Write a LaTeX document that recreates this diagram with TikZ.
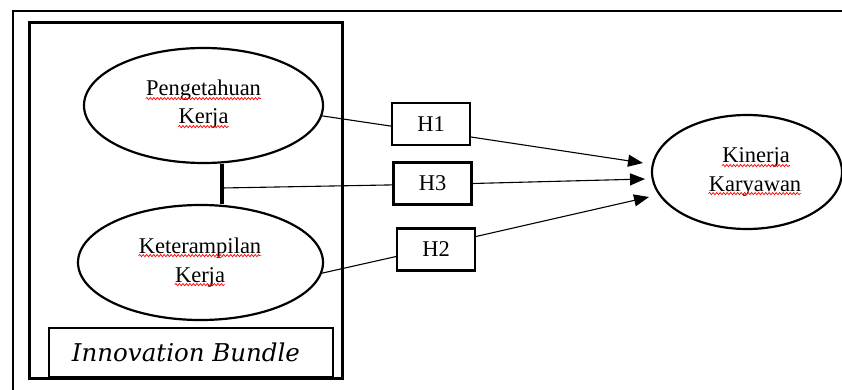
\documentclass[tikz,border=0pt]{standalone}
\usepackage{fontspec}
\setmainfont{Liberation Serif}
\newfontfamily\bundlefont{DejaVu Serif}
\usetikzlibrary{arrows.meta,shapes.geometric,decorations.pathmorphing}
\begin{document}
\begin{tikzpicture}[x=1pt,y=-1pt,
  ell/.style={ellipse,draw,line width=2.2pt,inner sep=0pt},
  lbl/.style={anchor=base,inner sep=0pt,font=\fontsize{22.5}{28}\selectfont},
  wave/.style={red,line width=0.7pt,decorate,decoration={snake,amplitude=1.1pt,segment length=3.5pt}},
  hbox/.style={rectangle,draw,line width=2.2pt,minimum width=78pt,minimum height=42pt,inner sep=0pt,font=\fontsize{22.5}{26}\selectfont},
  conn/.style={line width=1.1pt},
  arr/.style={conn,-{Triangle[length=15pt,width=12pt]}}]
\useasboundingbox (0,0) rectangle (842,390);
% outer frame
\draw[line width=1.6pt] (13,400) -- (13,11) -- (850,11);
% innovation bundle frame
\draw[line width=3pt] (29,23) rectangle (342,378);
\node[draw,line width=1.2pt,minimum width=284pt,minimum height=49pt,inner sep=0pt,
      font=\bundlefont\itshape\fontsize{24.5}{27}\selectfont] (bundle) at (191,352.5) {\hspace*{-10pt}Innovation Bundle};
% ellipses
\node[ell,minimum width=239pt,minimum height=115pt] (e1) at (203.5,105.5) {};
\node[ell,minimum width=245pt,minimum height=115pt] (e2) at (200.5,262.5) {};
\node[ell,minimum width=190pt,minimum height=114pt] (e3) at (747,172) {};
% ellipse labels
\node[lbl] (e1a) at (203.5,96) {Pengetahuan};
\node[lbl] (e1b) at (203.5,124) {Kerja};
\node[lbl] (e2a) at (200,253) {Keterampilan};
\node[lbl] (e2b) at (200,282) {Kerja};
\node[lbl] (e3a) at (756,163) {Kinerja};
\node[lbl] (e3b) at (755,191) {Karyawan};
\foreach \w in {e1a,e1b,e2a,e2b,e3a,e3b}
  \draw[wave] ([yshift=-2.6pt]\w.base west) -- ([yshift=-2.6pt]\w.base east);
% hypothesis boxes
\node[hbox] (h1) at (431,124) {H1};
\node[hbox] (h3) at (432.5,183.5) {H3};
\node[hbox] (h2) at (436,249.5) {H2};
% joint line
\coordinate (j) at (222,188);
\draw[line width=3.5pt] (j |- e1.south) -- (j |- e2.north);
% arrow targets
\coordinate (t1) at (643,163);
\coordinate (t3) at (645,179);
\coordinate (t2) at (649,197);
% connectors
\draw[conn] (e1.-5) -- (h1.183);
\draw[conn] (j) -- (h3.182);
\draw[conn] (e2.-5) -- (h2.190);
\draw[arr] (h1.-18) -- (t1);
\draw[arr] (h3.east) -- (t3);
\draw[arr] (h2.18) -- (t2);
\end{tikzpicture}
\end{document}
